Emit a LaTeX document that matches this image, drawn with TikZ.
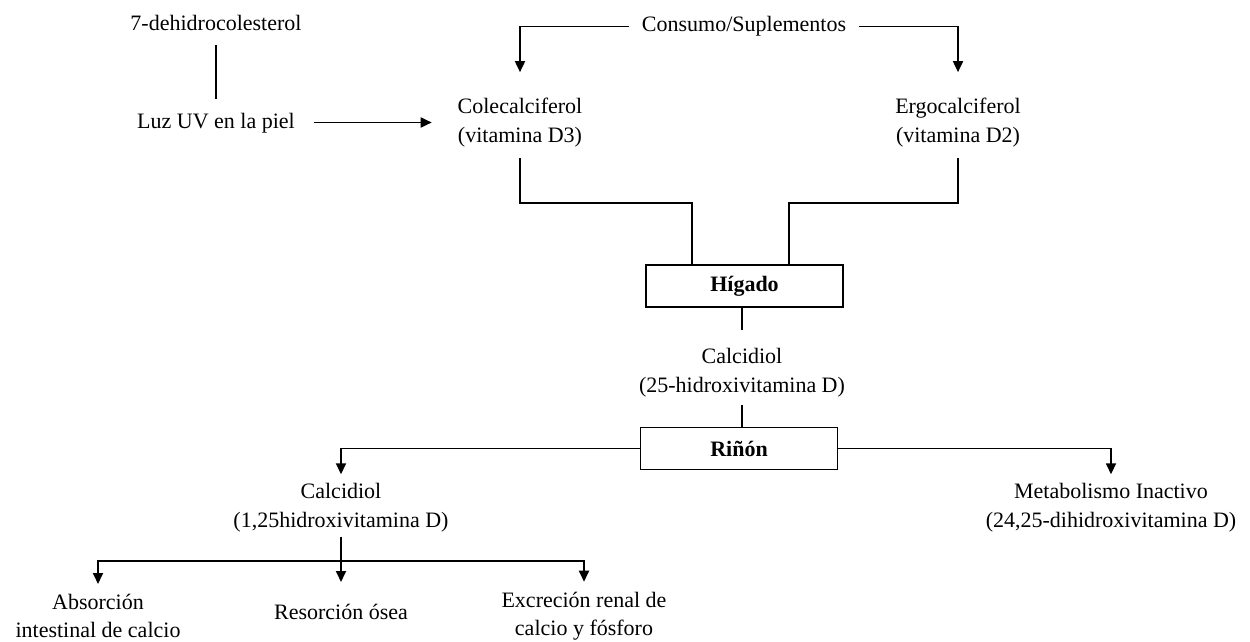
\documentclass[tikz,border=0pt]{standalone}
\usepackage{fontspec}
\setmainfont{Liberation Serif}
\usetikzlibrary{arrows.meta}
\begin{document}
\begin{tikzpicture}[x=1pt,y=-1pt,
  txt/.style={align=center, inner sep=0pt, outer sep=0pt, font=\fontsize{22}{28.5}\selectfont},
  txtone/.style={txt, text height=16pt, text depth=5pt},
  organ/.style={draw, line width=1.8pt, minimum width=197pt, minimum height=42pt, inner sep=0pt, font=\fontsize{22}{28.5}\selectfont\bfseries},
  ln/.style={line width=1.8pt},
  arr/.style={ln, -{Triangle[length=11pt,width=10pt]}}]
\useasboundingbox (0,0) rectangle (1250,642);
\node[txtone] (dehidro) at (216,25.5) {7-dehidrocolesterol};
\node[txtone] (luz) at (216,122.5) {Luz UV en la piel};
\node[txt] (cole) at (520,122.5) {Colecalciferol\\(vitamina D3)};
\node[txtone] (cons) at (744,26.5) {Consumo/Suplementos};
\node[txt] (ergo) at (958,122.5) {Ergocalciferol\\(vitamina D2)};
\node[organ] (hig) at (744.5,286) {Hígado};
\node[txt] (calc1) at (742,372.5) {Calcidiol\\(25-hidroxivitamina D)};
\node[organ] (rin) at (739,448.5) {Riñón};
\node[txt] (calc2) at (341,507.5) {Calcidiol\\(1,25hidroxivitamina D)};
\node[txt] (meta) at (1111,507.5) {Metabolismo Inactivo\\(24,25-dihidroxivitamina D)};
\node[txt] (abs) at (98,616) {Absorción\\intestinal de calcio};
\node[txtone] (reso) at (341,613.5) {Resorción ósea};
\node[txt] (excr) at (584,616) {Excreción renal de\\calcio y fósforo};
\coordinate (jl) at (692,203);
\coordinate (jr) at (789,203);
\coordinate (jb) at (341,561);
\draw[ln, shorten <=9pt, shorten >=13pt] (dehidro.south) -- (luz.north);
\draw[arr, shorten <=19pt, shorten >=26pt] (luz.east) -- (luz.east -| cole.west);
\draw[arr, shorten <=13pt, shorten >=26pt] (cons.west) -| (cole.north);
\draw[arr, shorten <=13pt, shorten >=26pt] (cons.east) -| (ergo.north);
\draw[ln, shorten <=11pt] (cole.south) |- (jl) -- (jl |- hig.north);
\draw[ln, shorten <=11pt] (ergo.south) |- (jr) -- (jr |- hig.north);
\draw[ln, shorten >=18pt] (calc1.north |- hig.south) -- (calc1.north);
\draw[ln, shorten <=8pt] (calc1.south) -- (calc1.south |- rin.north);
\draw[arr, shorten >=9pt] (rin.west) -| (calc2.north);
\draw[arr, shorten >=9pt] (rin.east) -| (meta.north);
\draw[ln, shorten <=5pt] (calc2.south) -- (jb);
\draw[arr, shorten >=10pt] (jb) -| (abs.north);
\draw[arr, shorten >=10pt] (jb) -| (excr.north);
\draw[arr, shorten >=21pt] (jb) -- (reso.north);
\end{tikzpicture}
\end{document}
